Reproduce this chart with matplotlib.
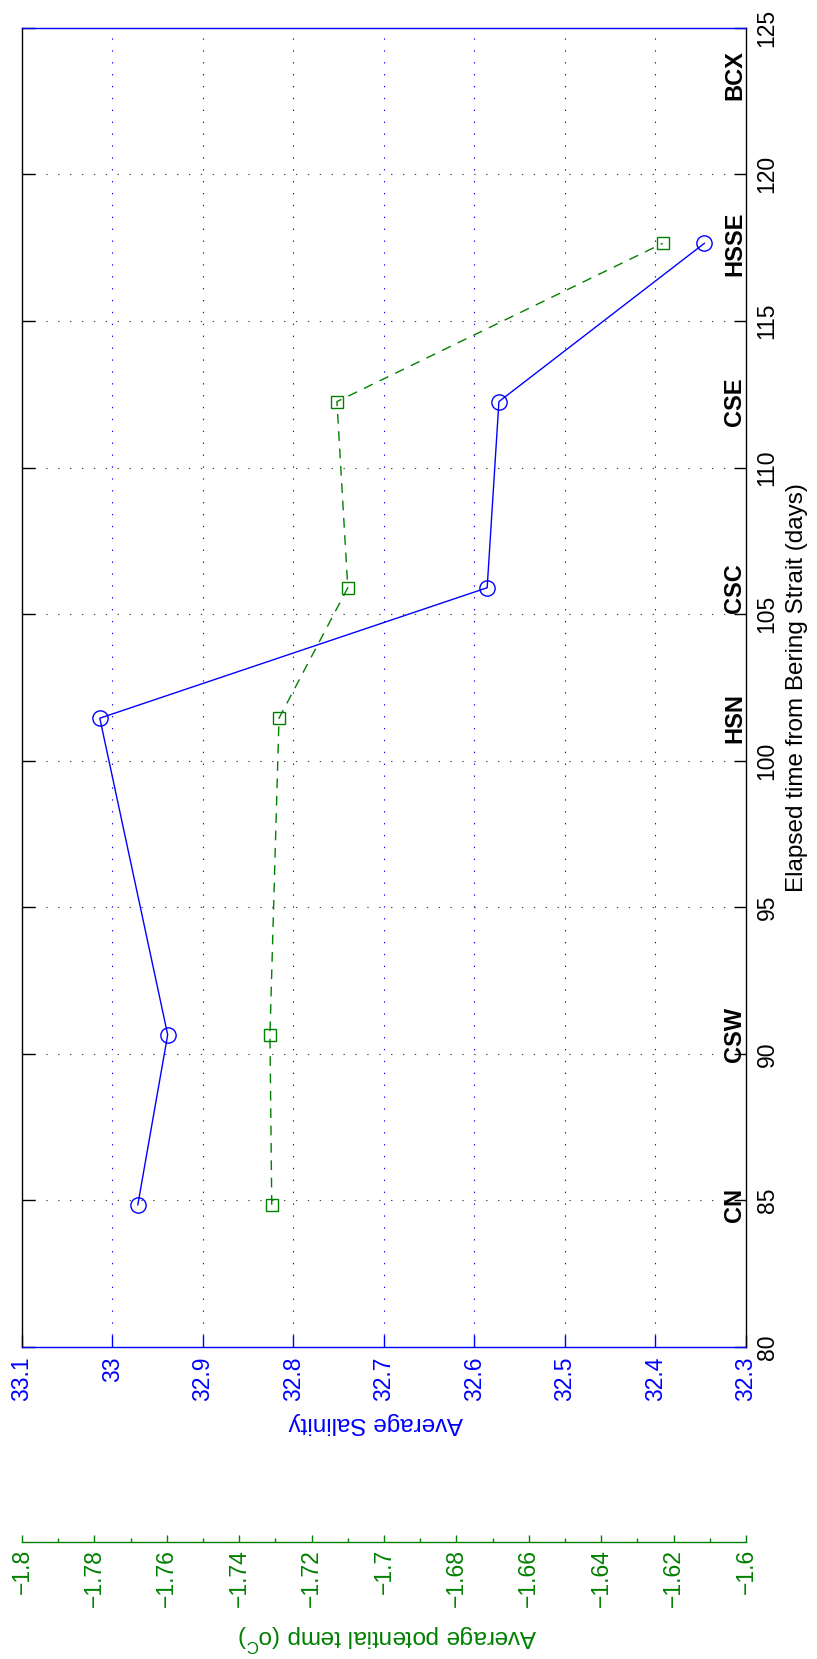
import matplotlib
matplotlib.use("Agg")
from matplotlib import pyplot as plt

plt.rcParams['font.family'] = ['Liberation Sans', 'DejaVu Sans']

# Station data: elapsed time (days), average salinity, average potential temperature.
stations = ["CN", "CSW", "HSN", "CSC", "CSE", "HSSE"]
days = [84.85, 90.65, 101.45, 105.9, 112.25, 117.65]
salinity = [32.972, 32.939, 33.014, 32.586, 32.573, 32.346]
temperature = [-1.731, -1.7315, -1.729, -1.710, -1.713, -1.623]

# Station labels along the right side (BCX has no measurement).
label_names = ["CN", "CSW", "HSN", "CSC", "CSE", "HSSE", "BCX"]
label_days = [84.85, 90.65, 101.45, 105.9, 112.25, 117.65, 123.4]

sal_ticks = [33.1, 33.0, 32.9, 32.8, 32.7, 32.6, 32.5, 32.4, 32.3]
sal_labels = ["33.1", "33", "32.9", "32.8", "32.7", "32.6", "32.5", "32.4", "32.3"]
day_ticks = [80, 85, 90, 95, 100, 105, 110, 115, 120, 125]
temp_ticks = [-1.8, -1.78, -1.76, -1.74, -1.72, -1.7, -1.68, -1.66, -1.64, -1.62, -1.6]
temp_labels = ["\u22121.8", "\u22121.78", "\u22121.76", "\u22121.74", "\u22121.72", "\u22121.7",
               "\u22121.68", "\u22121.66", "\u22121.64", "\u22121.62", "\u22121.6"]

blue = "#0000ff"
green = "#008000"

fig = plt.figure(figsize=(8.17, 16.59), dpi=100)
ax = fig.add_axes([0.0269, 0.1881, 0.8862, 0.7951])

# Salinity on the horizontal axis, time on the vertical axis (rotated page).
ax.plot(salinity, days, color=blue, lw=1.0, marker="o", ms=11,
        mfc="none", mec=blue, mew=1.0, zorder=3)
ax.set_xlim(33.1, 32.3)
ax.set_ylim(80, 125)

ax.set_xticks(sal_ticks)
ax.set_xticklabels(sal_labels, rotation=90, color=blue, fontsize=16.5)
ax.set_yticks(day_ticks)
ax.set_yticklabels([str(d) for d in day_ticks], rotation=90, fontsize=16.5, va="center")
ax.yaxis.tick_right()
ax.tick_params(axis="x", direction="in", length=9, width=1, color=blue,
               top=True, bottom=True, pad=7)
ax.tick_params(axis="y", direction="in", length=9, width=1, color="black",
               left=True, right=True, pad=7)

for name in ["top", "bottom"]:
    ax.spines[name].set_color(blue)
for name in ["left", "right"]:
    ax.spines[name].set_color("black")
for s in ax.spines.values():
    s.set_linewidth(1.0)

# Grid lines
for v in sal_ticks[1:-1]:
    ax.axvline(v, color=blue, lw=0.8, ls=(0, (1.2, 9.5)), zorder=1)
for d in day_ticks[1:-1]:
    ax.axhline(d, color="#444444", lw=0.8, ls=(0, (1.2, 9.5)), zorder=1)

for name, d in zip(label_names, label_days):
    ax.text(32.3, d, name, rotation=90, ha="right", va="center",
            fontsize=17, fontweight="bold", color="black")

ax.set_xlabel("Average Salinity", rotation=180, color=blue, fontsize=17.5,
              ha="center", va="center")
ax.xaxis.set_label_coords(0.489, -0.0576)
ax.yaxis.set_label_position("right")
ax.set_ylabel("Elapsed time from Bering Strait (days)", rotation=90,
              fontsize=17.5, ha="center", va="center")
ax.yaxis.set_label_coords(1.0704, 0.5)

# Temperature on a second horizontal axis below
ax2 = ax.twiny()
ax2.plot(temperature, days, color=green, lw=1.0, ls=(0, (7, 5.5)), marker="s",
         ms=9, mfc="none", mec=green, mew=1.0, zorder=3)
ax2.set_xlim(-1.8, -1.6)
ax2.set_ylim(80, 125)
ax2.xaxis.set_ticks_position("bottom")
ax2.xaxis.set_label_position("bottom")
for name in ["top", "left", "right"]:
    ax2.spines[name].set_visible(False)
ax2.spines["bottom"].set_position(("outward", 140.4))
ax2.spines["bottom"].set_color(green)
ax2.spines["bottom"].set_linewidth(1.0)
ax2.set_xticks(temp_ticks)
ax2.set_xticklabels(temp_labels, rotation=90, color=green, fontsize=16.5)
ax2.set_xticks([-1.79, -1.77, -1.75, -1.73, -1.71, -1.69, -1.67, -1.65, -1.63, -1.61], minor=True)
ax2.tick_params(axis="x", which="major", direction="in", length=5, width=1, color=green, pad=5)
ax2.tick_params(axis="x", which="minor", direction="in", length=3, width=1, color=green)
ax2.set_xlabel(r"Average potential temp (o$^\mathregular{C}$)", rotation=180,
               color=green, fontsize=17.5, ha="center", va="center")
ax2.xaxis.set_label_coords(0.505, -0.2206)

fig.savefig("out.png", dpi=100)
